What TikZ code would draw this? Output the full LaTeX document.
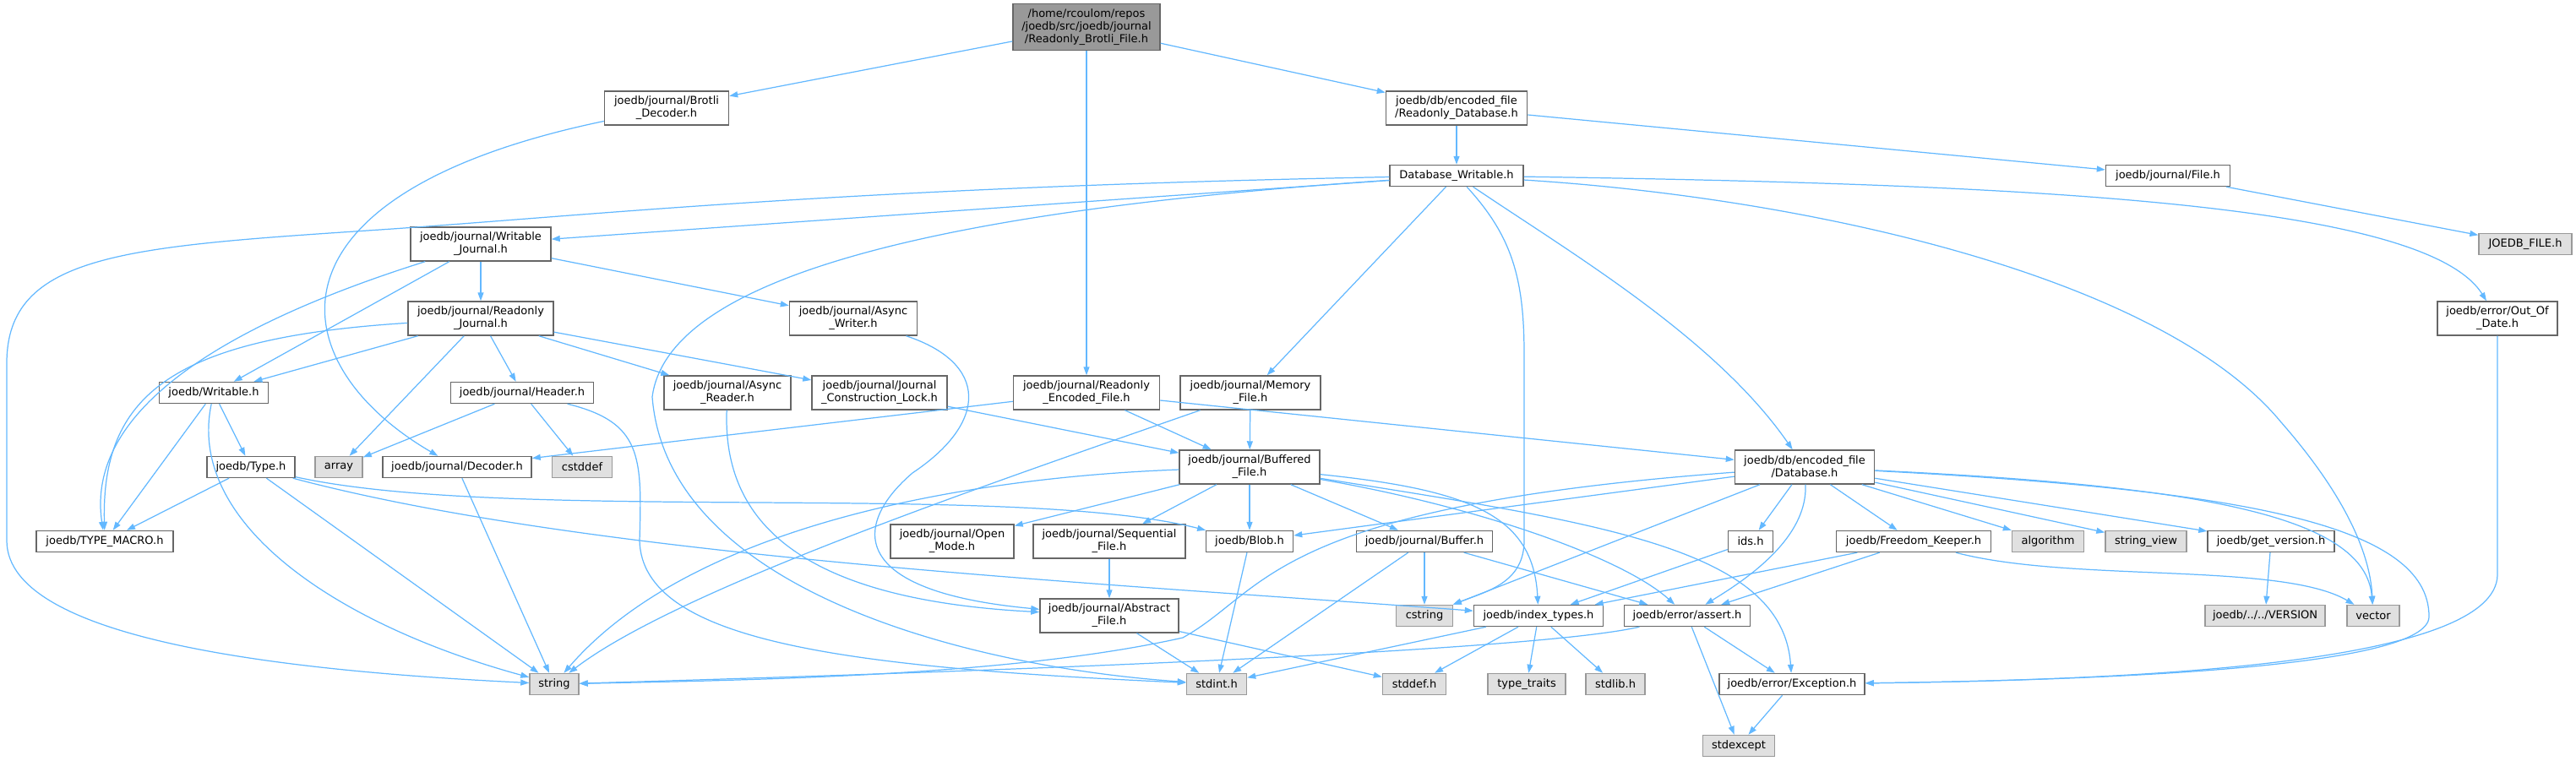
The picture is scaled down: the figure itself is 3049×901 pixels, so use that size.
\documentclass[tikz,border=0pt]{standalone}
\usepackage{fontspec}
\setmainfont{DejaVu Sans}
\usetikzlibrary{arrows.meta}
\definecolor{includeblue}{HTML}{63B8FF}
\definecolor{framegray}{HTML}{666666}
\definecolor{filegray}{HTML}{999999}
\definecolor{sysgray}{HTML}{E0E0E0}

\begin{document}
\begin{tikzpicture}[x=0.01cm,y=-0.01cm,
  file/.style={draw=framegray,fill=white,line width=0.4pt,inner sep=0pt,align=center,minimum height=0.25cm,font=\fontsize{3.7pt}{4.3pt}\selectfont},
  two lines/.style={minimum height=0.4cm},
  sys/.style={file,draw=filegray,fill=sysgray},
  main/.style={file,fill=filegray,minimum height=0.55cm},
  inc/.style={includeblue,line width=0.35pt,-{Triangle[length=0.1cm,width=0.07cm]}}]
  \useasboundingbox (0,0) rectangle (3049,901);

  \node[main,minimum width=1.74cm] (root) at (1286,32) {/home/rcoulom/repos\\/joedb/src/joedb/journal\\/Readonly\_Brotli\_File.h};
  \node[file,two lines,minimum width=1.47cm] (brotli decoder) at (789,128) {joedb/journal/Brotli\\\_Decoder.h};
  \node[file,two lines,minimum width=1.67cm] (readonly database) at (1724,128) {joedb/db/encoded\_file\\/Readonly\_Database.h};
  \node[file,minimum width=1.58cm] (database writable) at (1724,208) {Database\_Writable.h};
  \node[file,minimum width=1.47cm] (journal file) at (2566,208) {joedb/journal/File.h};
  \node[sys,minimum width=1.10cm] (joedb file) at (2989,289) {JOEDB\_FILE.h};
  \node[file,two lines,minimum width=1.42cm] (out of date) at (2956,377) {joedb/error/Out\_Of\\\_Date.h};
  \node[file,two lines,minimum width=1.66cm] (writable journal) at (569,289) {joedb/journal/Writable\\\_Journal.h};
  \node[file,two lines,minimum width=1.72cm] (readonly journal) at (569,377) {joedb/journal/Readonly\\\_Journal.h};
  \node[file,two lines,minimum width=1.51cm] (async writer) at (1010,377) {joedb/journal/Async\\\_Writer.h};
  \node[file,minimum width=1.29cm] (writable) at (253,465) {joedb/Writable.h};
  \node[file,minimum width=1.69cm] (header) at (618,465) {joedb/journal/Header.h};
  \node[file,two lines,minimum width=1.50cm] (async reader) at (861,465) {joedb/journal/Async\\\_Reader.h};
  \node[file,two lines,minimum width=1.60cm] (construction lock) at (1041,465) {joedb/journal/Journal\\\_Construction\_Lock.h};
  \node[file,two lines,minimum width=1.73cm] (readonly encoded) at (1286,465) {joedb/journal/Readonly\\\_Encoded\_File.h};
  \node[file,two lines,minimum width=1.66cm] (memory file) at (1480,465) {joedb/journal/Memory\\\_File.h};
  \node[file,minimum width=1.04cm] (type) at (297,553) {joedb/Type.h};
  \node[sys,minimum width=0.56cm] (array) at (401,553) {array};
  \node[file,minimum width=1.76cm] (decoder) at (541,553) {joedb/journal/Decoder.h};
  \node[sys,minimum width=0.71cm] (cstddef) at (689,553) {cstddef};
  \node[file,two lines,minimum width=1.66cm] (buffered file) at (1479,553) {joedb/journal/Buffered\\\_File.h};
  \node[file,two lines,minimum width=1.65cm] (database) at (2136,553) {joedb/db/encoded\_file\\/Database.h};
  \node[file,minimum width=1.62cm] (type macro) at (124,641) {joedb/TYPE\_MACRO.h};
  \node[file,two lines,minimum width=1.46cm] (open mode) at (1127,641) {joedb/journal/Open\\\_Mode.h};
  \node[file,two lines,minimum width=1.80cm] (sequential file) at (1313,641) {joedb/journal/Sequential\\\_File.h};
  \node[file,minimum width=1.03cm] (blob) at (1479,641) {joedb/Blob.h};
  \node[file,minimum width=1.61cm] (buffer) at (1686,641) {joedb/journal/Buffer.h};
  \node[file,minimum width=0.53cm] (ids) at (2072,641) {ids.h};
  \node[file,minimum width=1.83cm] (freedom keeper) at (2265,641) {joedb/Freedom\_Keeper.h};
  \node[sys,minimum width=0.85cm] (algorithm) at (2424,641) {algorithm};
  \node[sys,minimum width=0.96cm] (string view) at (2540,641) {string\_view};
  \node[file,minimum width=1.50cm] (get version) at (2688,641) {joedb/get\_version.h};
  \node[file,two lines,minimum width=1.64cm] (abstract file) at (1313,729) {joedb/journal/Abstract\\\_File.h};
  \node[sys,minimum width=0.67cm] (cstring) at (1686,729) {cstring};
  \node[file,minimum width=1.53cm] (index types) at (1821,729) {joedb/index\_types.h};
  \node[file,minimum width=1.49cm] (assert) at (1997,729) {joedb/error/assert.h};
  \node[sys,minimum width=1.42cm] (version) at (2681,729) {joedb/../../VERSION};
  \node[sys,minimum width=0.62cm] (vector) at (2809,729) {vector};
  \node[sys,minimum width=0.58cm] (string) at (656,810) {string};
  \node[sys,minimum width=0.71cm] (stdint) at (1440,810) {stdint.h};
  \node[sys,minimum width=0.75cm] (stddef) at (1674,810) {stddef.h};
  \node[sys,minimum width=0.92cm] (type traits) at (1807,810) {type\_traits};
  \node[sys,minimum width=0.70cm] (stdlib) at (1912,810) {stdlib.h};
  \node[file,minimum width=1.72cm] (exception) at (2121,810) {joedb/error/Exception.h};
  \node[sys,minimum width=0.85cm] (stdexcept) at (2058,883) {stdexcept};

  \draw[inc] (root) -- (brotli decoder);
  \draw[inc] (root) -- (readonly database);
  \draw[inc] (root) -- (readonly encoded);
  \draw[inc] (brotli decoder) .. controls (300,230) and (330,430) .. (decoder);
  \draw[inc] (readonly database) -- (database writable);
  \draw[inc] (readonly database) -- (journal file);
  \draw[inc] (journal file) -- (joedb file);
  \draw[inc] (database writable) -- (writable journal);
  \draw[inc] (database writable) .. controls (1000,222) and (700,255) .. (450,272) .. controls (150,292) and (8,300) .. (8,430) -- (8,640) .. controls (8,760) and (350,795) .. (string);
  \draw[inc] (database writable) .. controls (1100,250) and (790,330) .. (772,470) .. controls (790,700) and (1150,790) .. (stdint);
  \draw[inc] (database writable) -- (memory file);
  \draw[inc] (database writable) .. controls (1790,280) and (1804,330) .. (1804,420) -- (1804,640) .. controls (1804,690) and (1760,700) .. (cstring);
  \draw[inc] (database writable) .. controls (1860,300) and (2030,400) .. (database);
  \draw[inc] (database writable) .. controls (2150,235) and (2560,330) .. (2700,500) .. controls (2770,580) and (2805,650) .. (vector);
  \draw[inc] (database writable) .. controls (2400,218) and (2870,240) .. (out of date);
  \draw[inc] (out of date) -- (2956,680) .. controls (2956,790) and (2500,805) .. (exception);
  \draw[inc] (writable journal) -- (readonly journal);
  \draw[inc] (writable journal) -- (writable);
  \draw[inc] (writable journal) .. controls (280,380) and (100,480) .. (type macro);
  \draw[inc] (writable journal) -- (async writer);
  \draw[inc] (readonly journal) -- (writable);
  \draw[inc] (readonly journal) .. controls (200,400) and (120,470) .. (type macro);
  \draw[inc] (readonly journal) -- (array);
  \draw[inc] (readonly journal) -- (header);
  \draw[inc] (readonly journal) -- (async reader);
  \draw[inc] (readonly journal) -- (construction lock);
  \draw[inc] (writable) -- (type);
  \draw[inc] (writable) -- (type macro);
  \draw[inc] (writable) .. controls (220,620) and (400,740) .. (string);
  \draw[inc] (header) -- (array);
  \draw[inc] (header) -- (cstddef);
  \draw[inc] (header) .. controls (760,500) and (760,540) .. (757,640) .. controls (760,760) and (1000,790) .. (stdint);
  \draw[inc] (type) -- (type macro);
  \draw[inc] (type) -- (string);
  \draw[inc] (type) .. controls (600,620) and (1200,570) .. (blob);
  \draw[inc] (type) .. controls (700,660) and (1300,690) .. (index types);
  \draw[inc] (decoder) -- (string);
  \draw[inc] (async writer) .. controls (1170,430) and (1170,500) .. (1080,560) .. controls (1010,620) and (1000,700) .. (abstract file);
  \draw[inc] (async reader) .. controls (855,620) and (950,710) .. (abstract file);
  \draw[inc] (construction lock) -- (buffered file);
  \draw[inc] (readonly encoded) -- (decoder);
  \draw[inc] (readonly encoded) -- (buffered file);
  \draw[inc] (readonly encoded) -- (database);
  \draw[inc] (memory file) -- (buffered file);
  \draw[inc] (memory file) .. controls (1150,580) and (800,700) .. (string);
  \draw[inc] (buffered file) .. controls (1150,565) and (820,620) .. (string);
  \draw[inc] (buffered file) -- (open mode);
  \draw[inc] (buffered file) -- (sequential file);
  \draw[inc] (buffered file) -- (blob);
  \draw[inc] (buffered file) -- (buffer);
  \draw[inc] (buffered file) .. controls (1740,580) and (1815,610) .. (index types);
  \draw[inc] (buffered file) .. controls (1750,600) and (1920,660) .. (assert);
  \draw[inc] (buffered file) .. controls (1900,620) and (2110,650) .. (exception);
  \draw[inc] (sequential file) -- (abstract file);
  \draw[inc] (abstract file) -- (stdint);
  \draw[inc] (abstract file) -- (stddef);
  \draw[inc] (blob) -- (stdint);
  \draw[inc] (buffer) -- (cstring);
  \draw[inc] (buffer) -- (stdint);
  \draw[inc] (buffer) -- (assert);
  \draw[inc] (database) -- (blob);
  \draw[inc] (database) .. controls (1500,600) and (1500,700) .. (1400,755) .. controls (1200,800) and (900,805) .. (string);
  \draw[inc] (database) -- (cstring);
  \draw[inc] (database) -- (ids);
  \draw[inc] (database) -- (freedom keeper);
  \draw[inc] (database) -- (algorithm);
  \draw[inc] (database) -- (string view);
  \draw[inc] (database) -- (get version);
  \draw[inc] (database) .. controls (2600,575) and (2800,610) .. (vector);
  \draw[inc] (database) .. controls (2650,580) and (2875,620) .. (2875,730) .. controls (2875,790) and (2500,805) .. (exception);
  \draw[inc] (database) .. controls (2140,640) and (2060,690) .. (assert);
  \draw[inc] (ids) -- (index types);
  \draw[inc] (freedom keeper) -- (index types);
  \draw[inc] (freedom keeper) -- (assert);
  \draw[inc] (freedom keeper) .. controls (2450,690) and (2700,665) .. (vector);
  \draw[inc] (get version) -- (version);
  \draw[inc] (index types) -- (stdint);
  \draw[inc] (index types) -- (stddef);
  \draw[inc] (index types) -- (type traits);
  \draw[inc] (index types) -- (stdlib);
  \draw[inc] (assert) .. controls (1800,775) and (1000,800) .. (string);
  \draw[inc] (assert) -- (exception);
  \draw[inc] (assert) -- (stdexcept);
  \draw[inc] (exception) -- (stdexcept);
\end{tikzpicture}
\end{document}
